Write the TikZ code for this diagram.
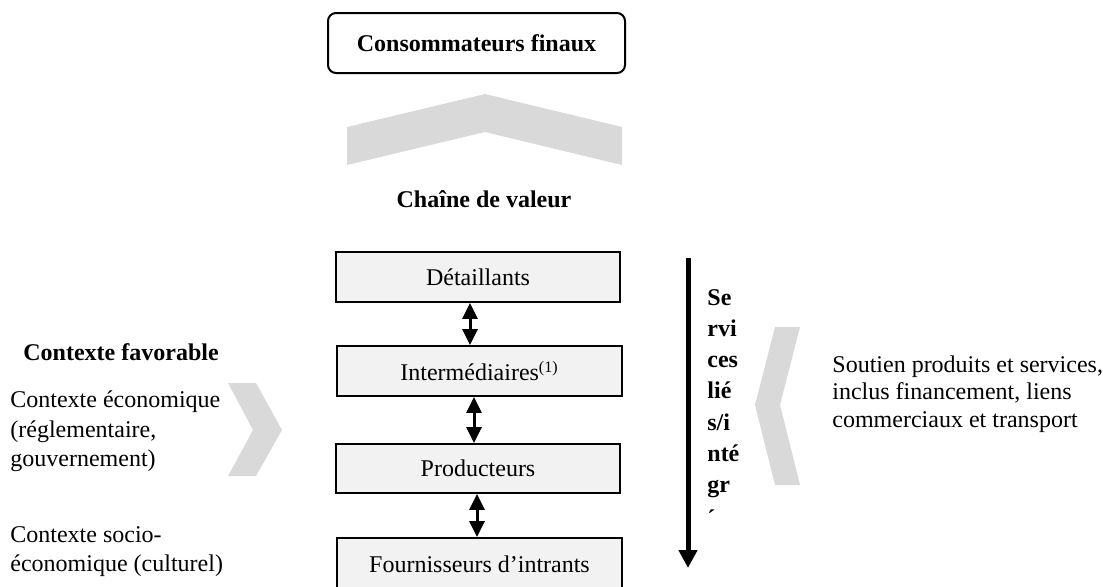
\documentclass[tikz,border=0pt]{standalone}
\usepackage{fontspec}
\setmainfont{Liberation Serif}
\usetikzlibrary{arrows.meta}
\definecolor{chevron}{HTML}{D9D9D9}
\definecolor{boxfill}{HTML}{F2F2F2}
\begin{document}
\begin{tikzpicture}[x=0.5pt,y=-0.5pt,
  every node/.style={font=\fontsize{12}{14}\selectfont, inner sep=0pt},
  boldtext/.style={font=\fontsize{12}{14}\selectfont\bfseries},
  chainbox/.style={draw, line width=0.9pt, fill=boxfill, minimum width=142pt, minimum height=25pt},
  shade/.style={fill=chevron, draw=none},
  link/.style={line width=1.5pt, {Triangle[width=7.5pt,length=8pt]}-{Triangle[width=7.5pt,length=8pt]}},
  textline/.style={anchor=base west}
]
\useasboundingbox (0,0) rectangle (1103,586);
\clip (0,0) rectangle (1103,586);

% final consumers and the upward chevron
\node[draw, line width=1pt, rounded corners=4pt, fill=white, boldtext,
      minimum width=148.5pt, minimum height=30pt] (cons) at (476.5,43) {Consommateurs finaux};
\fill[shade] (347,127) -- (485,94) -- (622,127) -- (622,165) -- (485,132) -- (347,165) -- cycle;
\node[boldtext, anchor=base] (chaine) at (484,207) {Chaîne de valeur};

% value chain boxes
\node[chainbox] (det) at (478,277) {Détaillants};
\node[chainbox, minimum width=142.5pt] (int) at (479.5,371) {Intermédiaires\textsuperscript{(1)}};
\node[chainbox, minimum height=24.5pt] (prod) at (478,468.5) {Producteurs};
\node[chainbox, minimum width=142.5pt, minimum height=26pt] (four) at (479.5,564) {Fournisseurs d’intrants};

% two-way links between the stages
\coordinate (a1) at (470,0);
\coordinate (a2) at (474,0);
\coordinate (a3) at (477,0);
\draw[link] (det.south -| a1) -- (int.north -| a1);
\draw[link] (int.south -| a2) -- (prod.north -| a2);
\draw[link] (prod.south -| a3) -- (four.north -| a3);

% services arrow with its wrapped label
\coordinate (vtop) at (688,258);
\coordinate (vbot) at (688,568);
\draw[line width=2.5pt, -{Triangle[width=9pt,length=9pt]}] (vtop) -- (vbot);
\foreach \t/\y [count=\i] in {Se/305, rvi/336, ces/367, lié/398, s\slash i/430, nté/461, gr/492, ´/526}
  \node[boldtext, textline] (sv\i) at (707,\y) {\t};

% enabling context on the left
\node[boldtext, textline] (cf) at (23,360) {Contexte favorable};
\node[textline] (ce1) at (10,407) {Contexte économique};
\node[textline] (ce2) at (10,437) {(réglementaire,};
\node[textline] (ce3) at (10,466) {gouvernement)};
\node[textline] (cs1) at (10,542) {Contexte socio-};
\node[textline] (cs2) at (10,571) {économique (culturel)};
\fill[shade] (228,383) -- (256,383) -- (282,430) -- (256,476) -- (228,476) -- (253,430) -- cycle;

% support services on the right
\fill[shade] (775,327) -- (800,327) -- (780,405) -- (800,485) -- (775,485) -- (755,405) -- cycle;
\node[textline] (so1) at (832,372) {Soutien produits et services,};
\node[textline] (so2) at (832,399) {inclus financement, liens};
\node[textline] (so3) at (832,427) {commerciaux et transport};
\end{tikzpicture}
\end{document}
